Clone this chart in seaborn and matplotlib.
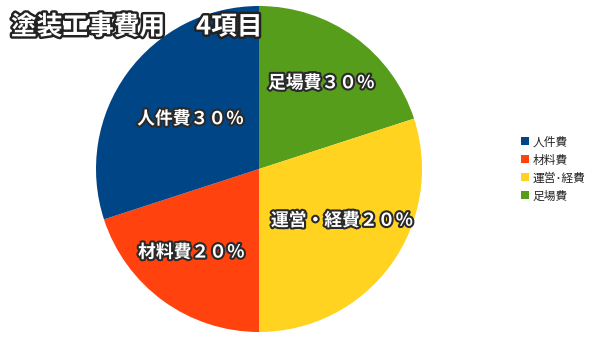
import matplotlib
matplotlib.use("Agg")
import matplotlib.pyplot as plt
import matplotlib.patheffects as pe
from matplotlib.patches import Patch
import numpy as np
import seaborn as sns

# ---- data ----
categories = ["人件費", "材料費", "運営・経費", "足場費"]
legend_labels = ["人件費", "材料費", "運営･経費", "足場費"]
slice_sizes = [30, 20, 30, 20]          # slice sizes as drawn
label_pcts = ["３０", "２０", "２０", "３０"]  # percent text as printed on the chart
title_main = "塗装工事費用"
title_sub = "4項目"

colors = {"人件費": "#004586", "材料費": "#ff420e", "運営・経費": "#ffd320", "足場費": "#579d1c"}

sns.set_theme(style="white")
plt.rcParams["font.family"] = ["Noto Sans CJK JP", "DejaVu Sans"]

W, H = 605, 340
fig = plt.figure(figsize=(W / 100, H / 100), dpi=100)
fig.patch.set_facecolor("white")

cx, cy, r = 259, 169, 163
ax = fig.add_axes([(cx - r) / W, (H - cy - r) / H, 2 * r / W, 2 * r / H])

# draw order: clockwise from 12 o'clock
order = ["足場費", "運営・経費", "材料費", "人件費"]
sizes = [slice_sizes[categories.index(c)] for c in order]
wedges, _ = ax.pie(sizes, colors=[colors[c] for c in order], startangle=90,
                   counterclock=False, radius=1,
                   wedgeprops=dict(linewidth=0, antialiased=True))
ax.set_xlim(-1, 1)
ax.set_ylim(-1, 1)
ax.set_aspect("equal")
ax.axis("off")

outline = [pe.withStroke(linewidth=3, foreground="#2a2a2a")]
label_dist = {"足場費": 0.65, "運営・経費": 0.6, "材料費": 0.66, "人件費": 0.52}
ang_shift = {"足場費": 0, "運営・経費": 4, "材料費": -3, "人件費": 0}
for w, c in zip(wedges, order):
    mid = np.deg2rad((w.theta1 + w.theta2) / 2 + ang_shift[c])
    d = label_dist[c]
    txt = f"{c}{label_pcts[categories.index(c)]}％"
    ax.text(d * np.cos(mid), d * np.sin(mid), txt, ha="center", va="center",
            color="white", fontsize=12.8, fontweight="bold", path_effects=outline)

# title
tfx = [pe.withStroke(linewidth=3.5, foreground="#222222")]
fig.text(11 / W, 1 - 27 / H, title_main, color="white", fontsize=18.5,
         fontweight="bold", va="center", ha="left", path_effects=tfx)
fig.text(196 / W, 1 - 27 / H, title_sub, color="white", fontsize=18.5,
         fontweight="bold", va="center", ha="left", path_effects=tfx)

# legend
handles = [Patch(facecolor=colors[c], edgecolor="none", label=l)
           for c, l in zip(categories, legend_labels)]
fig.legend(handles=handles, loc="center left", bbox_to_anchor=(521 / W, 1 - 169 / H),
           frameon=False, fontsize=8.5, handlelength=0.65, handleheight=0.65,
           handletextpad=0.35, labelspacing=0.42, borderaxespad=0, borderpad=0)

fig.savefig("out.png", dpi=100, facecolor="white")
